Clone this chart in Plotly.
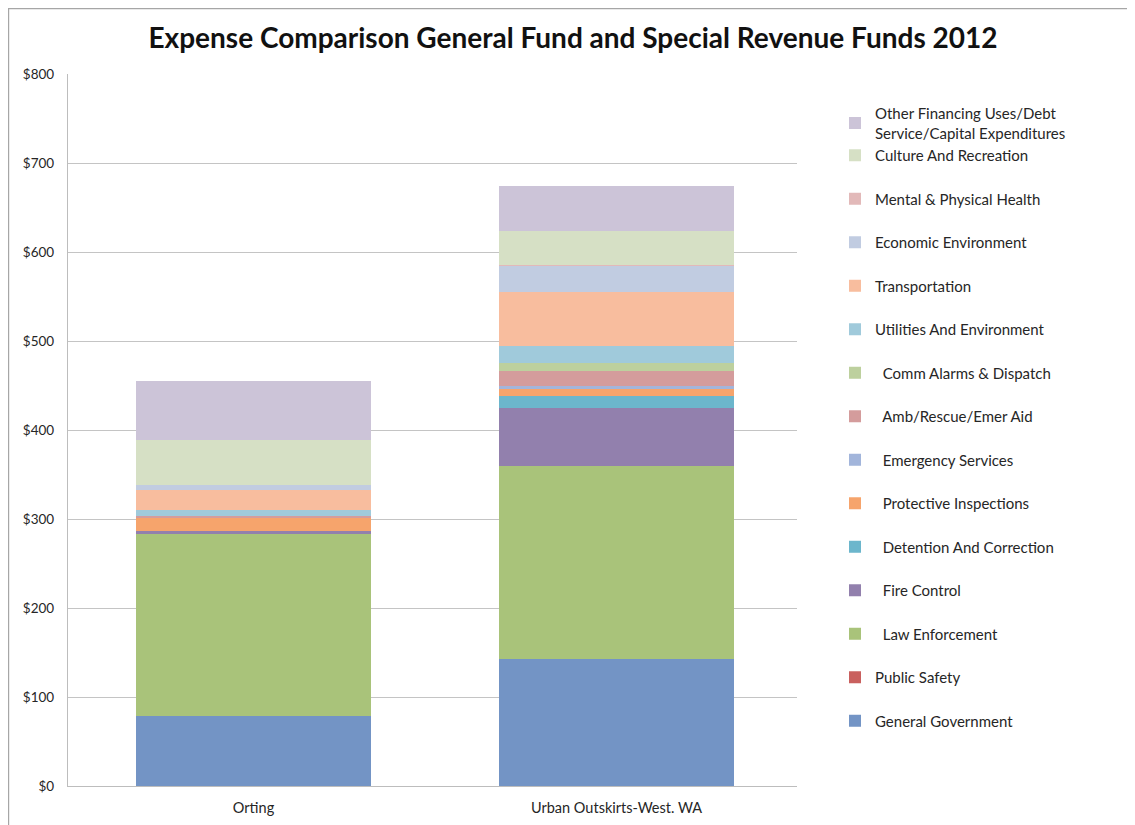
import plotly.graph_objects as go

categories = ["Orting", "Urban Outskirts-West. WA"]

series_names = [
    "General Government",
    "Public Safety",
    "\u00a0\u00a0Law Enforcement",
    "\u00a0\u00a0Fire Control",
    "\u00a0\u00a0Detention And Correction",
    "\u00a0\u00a0Protective Inspections",
    "\u00a0\u00a0Emergency Services",
    "\u00a0\u00a0Amb/Rescue/Emer Aid",
    "\u00a0\u00a0Comm Alarms & Dispatch",
    "Utilities And Environment",
    "Transportation",
    "Economic Environment",
    "Mental & Physical Health",
    "Culture And Recreation",
    "Other Financing Uses/Debt<br>Service/Capital Expenditures",
]

general_government = [78.3, 143.1]
public_safety = [0, 0]
law_enforcement = [205.1, 215.9]
fire_control = [2.6, 66.0]
detention_correction = [0, 13.0]
protective_inspections = [16.1, 9.0]
emergency_services = [0, 2.2]
amb_rescue = [1.1, 17.6]
comm_alarms = [0, 9.0]
utilities_environment = [7.2, 18.7]
transportation = [22.4, 61.0]
economic_environment = [4.9, 29.3]
mental_health = [0, 1.0]
culture_recreation = [51.3, 38.2]
other_financing = [65.8, 50.6]

series_values = [
    general_government, public_safety, law_enforcement, fire_control,
    detention_correction, protective_inspections, emergency_services,
    amb_rescue, comm_alarms, utilities_environment, transportation,
    economic_environment, mental_health, culture_recreation, other_financing,
]

colors = [
    "#7394C5", "#C9605E", "#A9C37A", "#9280AD", "#6CB6CC",
    "#F6A46C", "#A2B5DB", "#D49C9C", "#BDD09E", "#A0CADB",
    "#F8BD9E", "#C1CCE1", "#E2B9B9", "#D6E0C5", "#CCC4D8",
]

y_tickvals = [0, 100, 200, 300, 400, 500, 600, 700, 800]
y_ticktext = ["$0", "$100", "$200", "$300", "$400", "$500", "$600", "$700", "$800"]

n = len(series_names)
fig = go.Figure()
for i, (name, vals, col) in enumerate(zip(series_names, series_values, colors)):
    group = "top" if i >= 13 else "g%02d" % i
    fig.add_trace(go.Bar(
        x=categories, y=vals, name=name, marker_color=col,
        marker_line_width=0, legendgroup=group,
        legendrank=(n - i) * 10,
    ))

font_family = "Lato, 'Open Sans', sans-serif"

W, H = 1127, 817
L, R = 60, 789
T, B = 66, 777.7

fig.update_layout(
    width=W, height=H,
    barmode="stack", bargap=0.353,
    paper_bgcolor="white", plot_bgcolor="white",
    margin=dict(l=L, r=W - R, t=T, b=H - B, autoexpand=False),
    font=dict(family=font_family, size=14, color="#262626"),
    title=dict(
        text="<b>Expense Comparison General Fund and Special Revenue Funds 2012</b>",
        x=565 / W, xref="container", xanchor="center",
        y=1 - 30 / H, yanchor="middle",
        font=dict(family=font_family, size=28, color="#111111"),
    ),
    legend=dict(
        x=(827 - L) / (R - L), xanchor="left", xref="paper",
        y=(B - 89) / (B - T), yanchor="top",
        traceorder="grouped",
        tracegroupgap=21,
        font=dict(family=font_family, size=15, color="#262626"),
        bgcolor="rgba(0,0,0,0)",
    ),
    showlegend=True,
)

fig.update_yaxes(
    range=[0, 800], tickvals=y_tickvals, ticktext=y_ticktext,
    showgrid=True, gridcolor="#C4C4C4", gridwidth=1.2,
    showline=True, linecolor="#BDBDBD", linewidth=1.2,
    zeroline=False, ticks="", ticklabelstandoff=10,
    tickfont=dict(family=font_family, size=13.5, color="#262626"),
)
fig.update_xaxes(
    range=[-0.511, 1.497],
    showline=True, linecolor="#BDBDBD", linewidth=1.2,
    ticks="", ticklabelstandoff=8,
    tickfont=dict(family=font_family, size=14.5, color="#262626"),
)

# outer chart border
fig.add_shape(
    type="rect", xref="paper", yref="paper",
    x0=(0.6 - L) / (R - L), x1=(W + 20 - L) / (R - L),
    y0=(B - (H + 20)) / (B - T), y1=(B - 0.6) / (B - T),
    line=dict(color="#A6A6A6", width=1.2), fillcolor="rgba(0,0,0,0)",
    layer="below",
)

fig.write_html("out.html")
